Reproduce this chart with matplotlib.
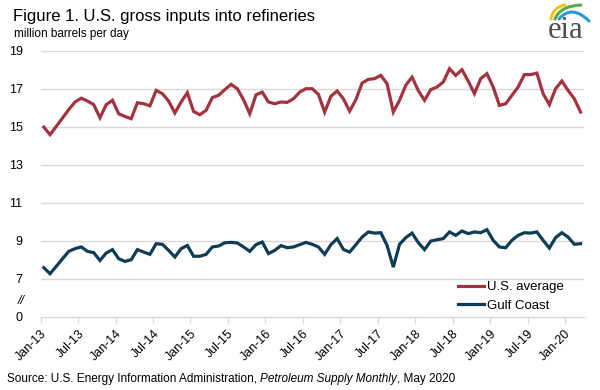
import numpy as np
import matplotlib
matplotlib.use("Agg")
import matplotlib.pyplot as plt
from matplotlib.path import Path
from matplotlib.patches import PathPatch

plt.rcParams["font.family"] = ["Liberation Sans", "DejaVu Sans"]

# ---------------------------------------------------------------------------
# Data (million barrels per day), monthly Jan-13 .. Mar-20
# ---------------------------------------------------------------------------
us_average = [14.98, 14.58, 15.02, 15.46, 15.90, 16.30, 16.50, 16.35, 16.16, 15.47,
              16.16, 16.39, 15.68, 15.54, 15.42, 16.26, 16.21, 16.10, 16.91, 16.74,
              16.35, 15.72, 16.30, 16.79, 15.80, 15.63, 15.86, 16.53, 16.65, 16.95,
              17.23, 17.00, 16.42, 15.68, 16.68, 16.82, 16.30, 16.21, 16.30, 16.28,
              16.47, 16.82, 17.00, 17.00, 16.70, 15.77, 16.60, 16.88, 16.47, 15.82,
              16.42, 17.30, 17.49, 17.53, 17.70, 17.26, 15.77, 16.39, 17.18, 17.61,
              16.90, 16.39, 16.95, 17.09, 17.35, 18.05, 17.70, 18.00, 17.40, 16.74,
              17.53, 17.79, 17.09, 16.12, 16.21, 16.65, 17.09, 17.74, 17.74, 17.82,
              16.74, 16.16, 17.00, 17.40, 16.91, 16.47, 15.77]
gulf_coast = [7.58, 7.26, 7.65, 8.05, 8.44, 8.58, 8.67, 8.44, 8.37, 7.96,
              8.35, 8.53, 8.05, 7.91, 8.00, 8.53, 8.40, 8.28, 8.84, 8.81,
              8.49, 8.14, 8.58, 8.75, 8.18, 8.18, 8.28, 8.67, 8.72, 8.89,
              8.91, 8.88, 8.67, 8.44, 8.79, 8.93, 8.32, 8.49, 8.74, 8.63,
              8.67, 8.79, 8.91, 8.81, 8.67, 8.28, 8.79, 9.11, 8.54, 8.40,
              8.79, 9.19, 9.46, 9.40, 9.42, 8.75, 7.61, 8.81, 9.16, 9.40,
              8.90, 8.53, 8.98, 9.05, 9.11, 9.46, 9.28, 9.51, 9.37, 9.46,
              9.42, 9.58, 9.02, 8.67, 8.63, 9.02, 9.28, 9.42, 9.40, 9.46,
              9.02, 8.61, 9.16, 9.42, 9.19, 8.81, 8.84]
x_labels = ["Jan-13", "Jul-13", "Jan-14", "Jul-14", "Jan-15", "Jul-15", "Jan-16",
            "Jul-16", "Jan-17", "Jul-17", "Jan-18", "Jul-18", "Jan-19", "Jul-19", "Jan-20"]
y_labels = ["0", "7", "9", "11", "13", "15", "17", "19"]

RED = "#a33340"
TEAL = "#0f3c56"
GRID = "#d9d9d9"

fig = plt.figure(figsize=(6, 3.9), dpi=100)
ax = fig.add_axes([0.0678, 0.188, 0.905, 0.682])

months = np.arange(len(us_average))
ax.plot(months, us_average, color=RED, lw=2.3, label="U.S. average", solid_joinstyle="miter")
ax.plot(months, gulf_coast, color=TEAL, lw=2.3, label="Gulf Coast", solid_joinstyle="miter")

# broken y axis: "0" drawn where 5 would be
ax.set_ylim(5, 19)
ax.set_yticks([5, 7, 9, 11, 13, 15, 17, 19])
ax.set_yticklabels(y_labels)
ax.tick_params(axis="y", length=0, pad=13, labelsize=9, colors="black")
for v in [7, 9, 11, 13, 15, 17, 19]:
    ax.axhline(v, color=GRID, lw=1, zorder=0)
ax.text(-0.03, 5.85, "//", transform=ax.get_yaxis_transform(), ha="right", va="center",
        fontsize=9, style="italic")

ax.set_xlim(-0.5, len(us_average) - 0.5)
ax.set_xticks(np.arange(0, len(us_average), 6) - 0.5)
ax.set_xticklabels(x_labels, rotation=45, ha="right", rotation_mode="anchor", va="top")
ax.tick_params(axis="x", length=4, color=GRID, width=1, labelsize=9, pad=4)

for s in ["left", "right", "top"]:
    ax.spines[s].set_visible(False)
ax.spines["bottom"].set_color(GRID)
ax.spines["bottom"].set_linewidth(1)

ax.legend(loc="center left", bbox_to_anchor=(0.763, 0.24), bbox_transform=fig.transFigure,
          frameon=False, fontsize=9.5, handlelength=2.0, handletextpad=0.25,
          borderpad=0, borderaxespad=0, labelspacing=0.45)

# titles
fig.text(0.021, 0.947, "Figure 1. U.S. gross inputs into refineries", fontsize=12,
         va="baseline", ha="left")
fig.text(0.0233, 0.904, "million barrels per day", fontsize=8.5, va="baseline", ha="left")

# source line with italic publication name
renderer = fig.canvas.get_renderer()
parts = [("Source: U.S. Energy Information Administration, ", "normal"),
         ("Petroleum Supply Monthly", "italic"),
         (", May 2020", "normal")]
x0 = 0.0117
for txt, st in parts:
    t = fig.text(x0, 0.021, txt, fontsize=8.5, style=st, va="baseline", ha="left")
    bb = t.get_window_extent(renderer)
    x0 = bb.x1 / (fig.get_figwidth() * fig.dpi)

# eia logo
fig.text(566 / 600, 1 - 38 / 390, "eia", fontsize=22, family="Liberation Serif",
         color="#4d4d4d", ha="center", va="baseline")
lax = fig.add_axes([0, 0, 1, 1], facecolor="none")
lax.set_xlim(0, 600)
lax.set_ylim(390, 0)
lax.axis("off")
arcs = [((551, 19), (553, 7), (565, 5), "#f2c318"),
        ((555, 19), (560, 6), (581, 5), "#5aab46"),
        ((559, 19), (572, 4), (589, 21), "#2a9ad6")]
for p0, p1, p2, c in arcs:
    path = Path([p0, p1, p2], [Path.MOVETO, Path.CURVE3, Path.CURVE3])
    lax.add_patch(PathPatch(path, fc="none", ec=c, lw=2.2, capstyle="round"))

fig.savefig("out.png", dpi=100)
